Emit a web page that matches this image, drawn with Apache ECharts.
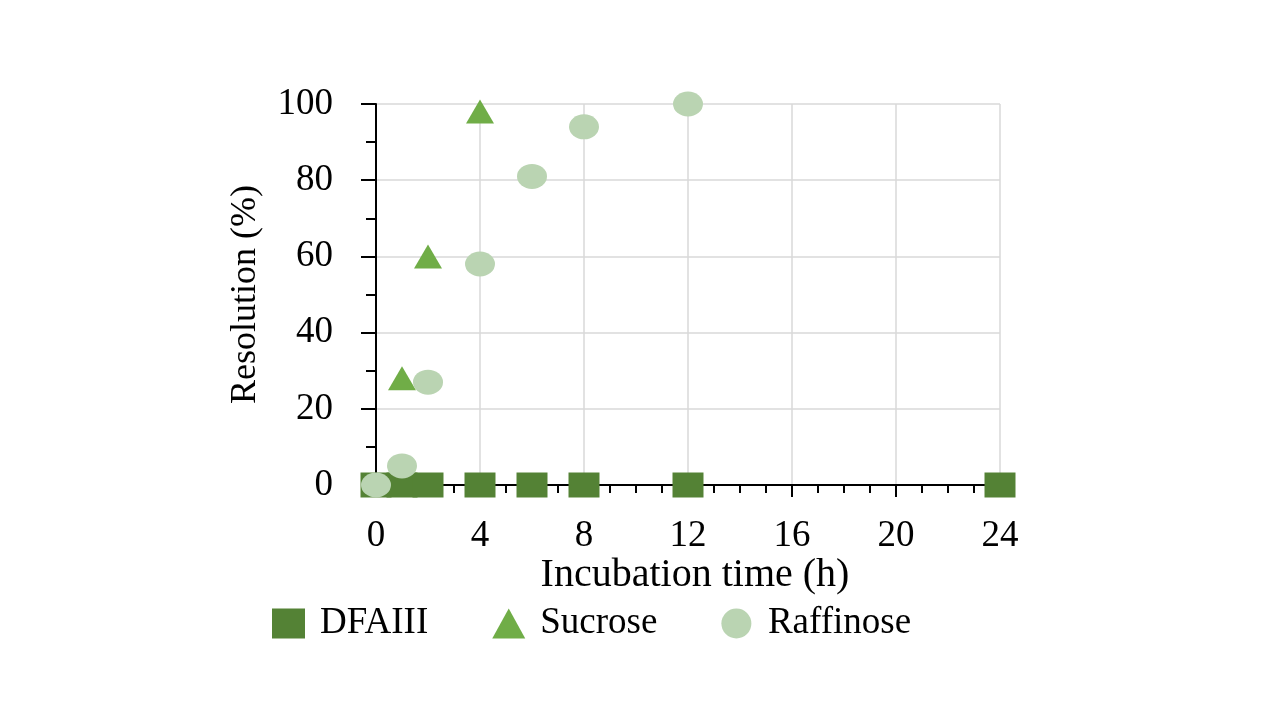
<!DOCTYPE html>
<html>
<head>
<meta charset="utf-8">
<script src="https://cdn.jsdelivr.net/npm/echarts@6/dist/echarts.min.js"></script>
<style>
  html, body { margin: 0; padding: 0; background: #fff; }
  #main { width: 1280px; height: 720px; }
</style>
</head>
<body>
<div id="main"></div>
<script>
// 数据
var dfaX = [0, 1, 2, 4, 6, 8, 12, 24];
var dfaY = [0, 0, 0, 0, 0, 0, 0, 0];
var sucroseX = [1, 2, 4];
var sucroseY = [28, 60, 98];
var raffinoseX = [0, 1, 2, 4, 6, 8, 12];
var raffinoseY = [0, 5, 27, 58, 81, 94, 100];

function pairs(xs, ys) {
    return xs.map(function (x, i) { return [x, ys[i]]; });
}

var font = 'Liberation Serif';

var option = {
    animation: false,
    backgroundColor: '#ffffff',
    textStyle: { fontFamily: font, color: '#000' },
    grid: { left: 376, right: 280, top: 104, bottom: 235 },
    legend: {
        left: 272,
        top: 605,
        padding: 0,
        itemWidth: 33,
        itemHeight: 30,
        itemGap: 64,
        textStyle: { fontFamily: font, fontSize: 37, color: '#000', padding: [0, 0, 0, 10] },
        data: ['DFAIII', 'Sucrose', 'Raffinose']
    },
    xAxis: {
        type: 'value',
        min: 0,
        max: 24,
        interval: 4,
        name: 'Incubation time (h)',
        nameLocation: 'middle',
        nameGap: 70,
        nameMoveOverlap: false,
        nameTextStyle: { fontFamily: font, fontSize: 40, color: '#000', padding: [0, 0, 0, 14] },
        axisLine: { onZero: false, lineStyle: { color: '#000', width: 2 } },
        axisTick: { show: true, inside: false, length: 12, lineStyle: { color: '#000', width: 2 } },
        minorTick: { show: true, splitNumber: 4, length: 8, lineStyle: { color: '#000', width: 2 } },
        axisLabel: { fontFamily: font, fontSize: 37, color: '#000', margin: 33 },
        splitLine: { show: true, lineStyle: { color: '#d9d9d9', width: 1.5 } }
    },
    yAxis: {
        type: 'value',
        min: 0,
        max: 100,
        interval: 20,
        name: 'Resolution (%)',
        nameLocation: 'middle',
        nameGap: 112,
        nameTextStyle: { fontFamily: font, fontSize: 36, color: '#000' },
        axisLine: { show: true, onZero: false, lineStyle: { color: '#000', width: 2 } },
        axisTick: { show: true, inside: false, length: 15, lineStyle: { color: '#000', width: 2 } },
        minorTick: { show: true, splitNumber: 2, length: 10, lineStyle: { color: '#000', width: 2 } },
        axisLabel: { fontFamily: font, fontSize: 37, color: '#000', margin: 43 },
        splitLine: { show: true, lineStyle: { color: '#d9d9d9', width: 1.5 } }
    },
    series: [
        {
            name: 'DFAIII',
            type: 'scatter',
            symbol: 'rect',
            symbolSize: [31, 25],
            itemStyle: { color: '#548235', opacity: 1 },
            data: pairs(dfaX, dfaY),
            z: 2
        },
        {
            name: 'Sucrose',
            type: 'scatter',
            symbol: 'triangle',
            symbolSize: [28, 24],
            itemStyle: { color: '#70ad47', opacity: 1 },
            data: pairs(sucroseX, sucroseY),
            z: 3
        },
        {
            name: 'Raffinose',
            type: 'scatter',
            symbol: 'circle',
            symbolSize: [30, 25],
            itemStyle: { color: '#bad4b2', opacity: 1 },
            data: pairs(raffinoseX, raffinoseY),
            z: 4
        }
    ]
};

var chart = echarts.init(document.getElementById('main'));
chart.setOption(option);
</script>
</body>
</html>
